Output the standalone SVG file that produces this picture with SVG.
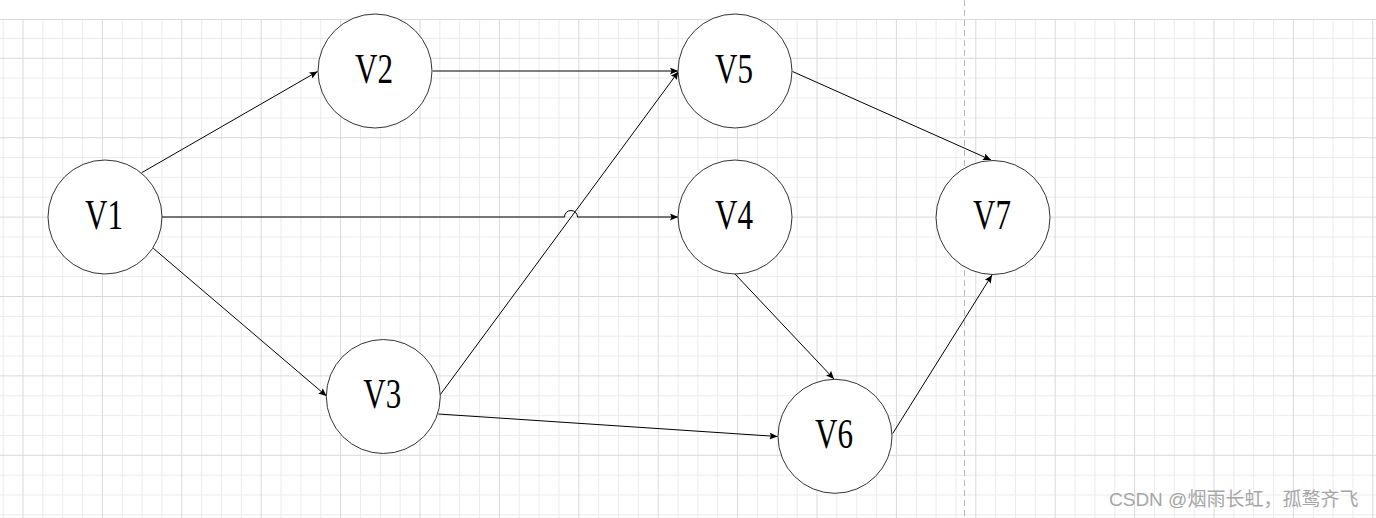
<svg xmlns="http://www.w3.org/2000/svg" width="1376" height="518" viewBox="0 0 1376 518">
  <style>
    .node circle { fill: #ffffff; stroke: #333333; stroke-width: 1; }
    .node text { font-family: "Liberation Serif", "DejaVu Serif", serif; font-size: 42px; fill: #000000; text-anchor: middle; }
    .edge { fill: none; stroke: #000000; stroke-width: 1; }
    .minor { fill: #ebebeb; }
    .major { fill: #d9d9d9; }
    .wm { font-family: "Liberation Sans", "Noto Sans CJK SC", sans-serif; font-size: 19px; fill: #a6a6a6; }
  </style>
  <defs>
    <pattern id="grid" patternUnits="userSpaceOnUse" x="22.5" y="57.8" width="79.4" height="79.4">
      <rect x="19.85" y="0" width="1" height="79.4" class="minor"/>
      <rect x="39.7" y="0" width="1" height="79.4" class="minor"/>
      <rect x="59.55" y="0" width="1" height="79.4" class="minor"/>
      <rect x="0" y="19.85" width="79.4" height="1" class="minor"/>
      <rect x="0" y="39.7" width="79.4" height="1" class="minor"/>
      <rect x="0" y="59.55" width="79.4" height="1" class="minor"/>
      <rect x="0" y="0" width="1" height="79.4" class="major"/>
      <rect x="0" y="0" width="79.4" height="1" class="major"/>
    </pattern>
    <marker id="arrow" markerUnits="userSpaceOnUse" markerWidth="9" markerHeight="7" refX="8" refY="3.5" orient="auto" viewBox="0 0 9 7">
      <path d="M0,0 L8,3.5 L0,7 L1.5,3.5 Z" fill="#000000"/>
    </marker>
  </defs>

  <rect x="0" y="0" width="1376" height="518" fill="#ffffff"/>
  <rect x="0" y="19" width="1376" height="499" fill="url(#grid)"/>
  <rect x="0" y="19" width="1376" height="1" fill="#dcdcdc"/>
  <line x1="964.5" y1="0" x2="964.5" y2="518" stroke="#b8b8b8" stroke-width="1" stroke-dasharray="6,4"/>

  <g id="connectors">
    <path class="edge" marker-end="url(#arrow)" d="M141.7,172.7 L317.5,71.5"/>
    <path class="edge" marker-end="url(#arrow)" d="M432.7,71 L678,71"/>
    <path class="edge" marker-end="url(#arrow)" d="M162,217 L564.5,217 A6.5,6.5 0 0 1 577.5,217 L678,217"/>
    <path class="edge" marker-end="url(#arrow)" d="M153.3,248.3 L326.5,396"/>
    <path class="edge" marker-end="url(#arrow)" d="M440,395 L678.5,71.5"/>
    <path class="edge" marker-end="url(#arrow)" d="M438.3,414 L777.5,436.5"/>
    <path class="edge" marker-end="url(#arrow)" d="M792.5,71.5 L991,160"/>
    <path class="edge" marker-end="url(#arrow)" d="M735,274 L834,379"/>
    <path class="edge" marker-end="url(#arrow)" d="M892.7,433.5 L992,275"/>
  </g>

  <g id="V1" class="node">
    <circle cx="105" cy="217" r="57"/>
    <text x="104" y="229" textLength="38" lengthAdjust="spacingAndGlyphs">V1</text>
  </g>
  <g id="V2" class="node">
    <circle cx="375" cy="71" r="57"/>
    <text x="374" y="83" textLength="38" lengthAdjust="spacingAndGlyphs">V2</text>
  </g>
  <g id="V3" class="node">
    <circle cx="383.3" cy="396.5" r="57"/>
    <text x="382.3" y="408" textLength="38" lengthAdjust="spacingAndGlyphs">V3</text>
  </g>
  <g id="V4" class="node">
    <circle cx="735" cy="217" r="57"/>
    <text x="734" y="229" textLength="38" lengthAdjust="spacingAndGlyphs">V4</text>
  </g>
  <g id="V5" class="node">
    <circle cx="735" cy="71" r="57"/>
    <text x="734" y="83" textLength="38" lengthAdjust="spacingAndGlyphs">V5</text>
  </g>
  <g id="V6" class="node">
    <circle cx="835" cy="436.3" r="57"/>
    <text x="834" y="448" textLength="38" lengthAdjust="spacingAndGlyphs">V6</text>
  </g>
  <g id="V7" class="node">
    <circle cx="993" cy="217.5" r="57"/>
    <text x="992" y="229" textLength="38" lengthAdjust="spacingAndGlyphs">V7</text>
  </g>

  <text class="wm" x="1109" y="506">CSDN @烟雨长虹，孤鹜齐飞</text>
</svg>
